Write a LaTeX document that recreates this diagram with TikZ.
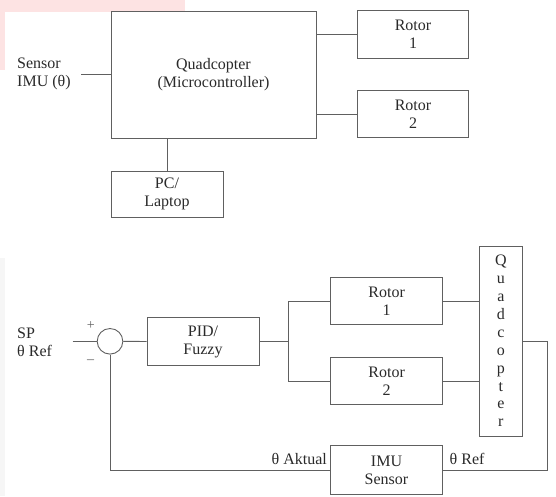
\documentclass[tikz,border=0pt]{standalone}
\usepackage{fontspec}
\setmainfont{Liberation Serif}
\definecolor{ln}{HTML}{606060}
\definecolor{tx}{HTML}{2A2A2A}
\definecolor{pinkbg}{HTML}{FDE3E3}
\definecolor{graybg}{HTML}{F6F6F6}
\tikzset{
  blk/.style={draw=ln, line width=0.9pt, fill=white, inner sep=0pt, align=center, text=tx,
              font=\fontsize{16}{18}\selectfont},
  conn/.style={draw=ln, line width=0.9pt},
  lbl/.style={inner sep=0pt, text=tx, font=\fontsize{16}{18}\selectfont, align=left},
  sgn/.style={inner sep=0pt, text=ln, font=\fontsize{14}{16}\selectfont}
}
\begin{document}
\begin{tikzpicture}[x=1pt,y=-1pt]
\useasboundingbox (0,0) rectangle (556,496);
% background artifacts
\fill[pinkbg] (0,0) rectangle (185,12);
\fill[pinkbg] (0,12) rectangle (5,70);
\fill[graybg] (0,258) rectangle (5,496);

% ---------- top diagram ----------
\node[blk, minimum width=205pt, minimum height=127pt] (quad) at (213.5,74.5) {Quadcopter\\(Microcontroller)};
\node[blk, minimum width=112pt, minimum height=46pt] (pc) at (167,194) {PC/\\Laptop};
\node[blk, minimum width=111pt, minimum height=48pt] (rA) at (413,34.5) {Rotor\\1};
\node[blk, minimum width=111pt, minimum height=47pt] (rB) at (413,114.2) {Rotor\\2};
\node[lbl, anchor=west] (sens) at (17,74) {Sensor\\IMU (θ)};
\coordinate (sensEnd) at (81,74.5);

\draw[conn] (sensEnd) -- (quad.west);
\draw[conn] (pc.north) -- (pc.north |- quad.south);
\draw[conn] (quad.east |- rA.west) -- (rA.west);
\draw[conn] (quad.east |- rB.west) -- (rB.west);

% ---------- bottom diagram ----------
\node[draw=ln, line width=0.9pt, circle, minimum size=25.6pt, inner sep=0pt] (sum) at (110,341.3) {};
\node[blk, minimum width=112pt, minimum height=48pt] (pid) at (203,341.5) {PID/\\Fuzzy};
\node[blk, minimum width=112pt, minimum height=47pt] (r1) at (386.7,301) {Rotor\\1};
\node[blk, minimum width=112pt, minimum height=47pt] (r2) at (386.7,381.2) {Rotor\\2};
\node[blk, minimum width=43pt, minimum height=190pt, font=\fontsize{16}{17.9}\selectfont] (tq) at (500.8,341)
  {Q\\u\\a\\d\\c\\o\\p\\t\\e\\r};
\node[blk, minimum width=112pt, minimum height=49pt] (imu) at (386.5,470.3) {IMU\\Sensor};

\node[lbl, anchor=west] (sp) at (17,342) {SP\\θ Ref};
\node[sgn] (plus) at (90.7,325.5) {+};
\node[sgn] (minus) at (90.7,361.5) {–};
\node[lbl, anchor=east] (akt) at (327,458.5) {θ Aktual};
\node[lbl, anchor=west] (tref) at (449.5,458.5) {θ Ref};

\coordinate (inEnd) at (72.7,341.3);
\coordinate (br) at (288.3,341.5);
\coordinate (outR) at (547.3,341);

\draw[conn] (inEnd) -- (sum.west);
\draw[conn] (sum.east) -- (pid.west);
\draw[conn] (pid.east) -- (br);
\draw[conn] (r1.west) -| (br) |- (r2.west);
\draw[conn] (r1.east) -- (r1.east -| tq.west);
\draw[conn] (r2.east) -- (r2.east -| tq.west);
\draw[conn] (tq.east |- outR) -- (outR) |- (imu.east);
\draw[conn] (imu.west) -| (sum.south);
\end{tikzpicture}
\end{document}
